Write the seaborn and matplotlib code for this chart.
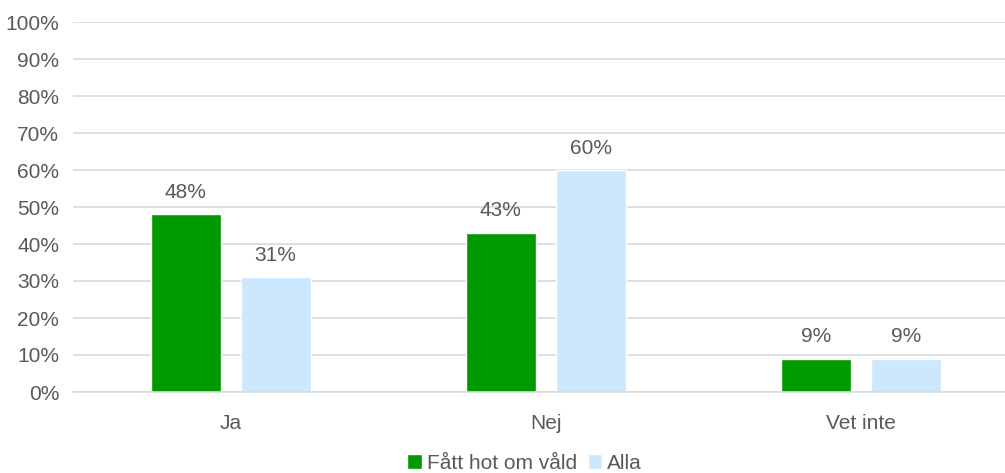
import pandas as pd
import seaborn as sns
import matplotlib.pyplot as plt
from matplotlib.patches import Patch

categories = ["Ja", "Nej", "Vet inte"]
series = ["Fått hot om våld", "Alla"]
hot_values = [48, 43, 9]
alla_values = [31, 60, 9]
colors = ["#009900", "#CCE8FF"]

df = pd.DataFrame({
    "svar": categories * 2,
    "grupp": [series[0]] * 3 + [series[1]] * 3,
    "andel": hot_values + alla_values,
})

sns.set_style("white")
plt.rcParams["font.family"] = ["Liberation Sans", "DejaVu Sans"]
text_col = "#595959"
fs = 15

fig = plt.figure(figsize=(10.05, 4.73), dpi=100)
ax = fig.add_axes([73 / 1005, 1 - 392 / 473, 1 - 73 / 1005, (392 - 22) / 473])

sns.barplot(data=df, x="svar", y="andel", hue="grupp", palette=colors,
            width=0.571, gap=0.222, ax=ax, legend=False, saturation=1)

for c in ax.containers:
    ax.bar_label(c, labels=[f"{v:.0f}%" for v in c.datavalues], padding=9,
                 fontsize=fs, color=text_col)

ax.set_ylim(0, 100)
ax.set_xlim(-0.5, 2.457)
ax.set_yticks(range(0, 101, 10))
ax.set_yticklabels([f"{t}%" for t in range(0, 101, 10)])
ax.yaxis.grid(True, color="#D9D9D9", linewidth=1.2)
ax.set_axisbelow(True)
ax.set_xlabel("")
ax.set_ylabel("")
for s in ["top", "right", "left"]:
    ax.spines[s].set_visible(False)
ax.spines["bottom"].set_color("#D9D9D9")
ax.spines["bottom"].set_linewidth(1.2)
ax.tick_params(axis="both", length=0, labelsize=fs, labelcolor=text_col)
ax.tick_params(axis="x", pad=16)
ax.tick_params(axis="y", pad=10)

handles = [Patch(facecolor=col, label=lab) for col, lab in zip(colors, series)]
fig.legend(handles=handles, loc="center", bbox_to_anchor=(0.522, 1 - 463 / 473),
           ncol=2, frameon=False, fontsize=fs, labelcolor=text_col,
           handlelength=0.7, handleheight=0.7, handletextpad=0.25,
           columnspacing=0.5)

fig.savefig("out.png", dpi=100)
